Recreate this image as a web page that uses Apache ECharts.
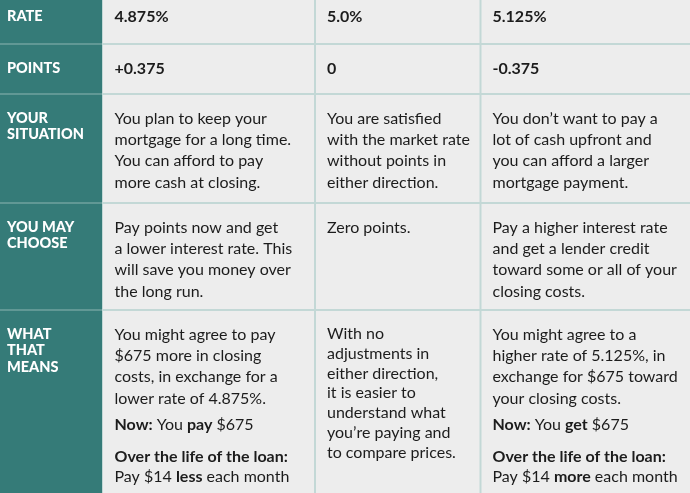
<!DOCTYPE html>
<html><head><meta charset="utf-8">
<script src="https://cdn.jsdelivr.net/npm/echarts@6/dist/echarts.min.js"></script>
<style>html,body{margin:0;padding:0;background:#ededed}#c{width:690px;height:493px}</style>
</head><body><div id="c"></div>
<script>
// ---- data ----
var rowLabels = ['RATE', 'POINTS', 'YOUR\nSITUATION', 'YOU MAY\nCHOOSE', 'WHAT\nTHAT\nMEANS'];
var rates = ['4.875%', '5.0%', '5.125%'];
var points = ['+0.375', '0', '-0.375'];
var situation = [
  'You plan to keep your\nmortgage for a long time.\nYou can afford to pay\nmore cash at closing.',
  'You are satisfied\nwith the market rate\nwithout points in\neither direction.',
  'You don\u2019t want to pay a\nlot of cash upfront and\nyou can afford a larger\nmortgage payment.'
];
var choose = [
  'Pay points now and get\na lower interest rate. This\nwill save you money over\nthe long run.',
  'Zero points.',
  'Pay a higher interest rate\nand get a lender credit\ntoward some or all of your\nclosing costs.'
];
var meansText = [
  'You might agree to pay\n$675 more in closing\ncosts, in exchange for a\nlower rate of 4.875%.',
  'With no\nadjustments in\neither direction,\nit is easier to\nunderstand what\nyou\u2019re paying and\nto compare prices.',
  'You might agree to a\nhigher rate of 5.125%, in\nexchange for $675 toward\nyour closing costs.'
];
var meansNow = ['{b|Now:} You {b|pay} $675', '', '{b|Now:} You {b|get} $675'];
var meansLife = ['{b|Over the life of the loan:}\nPay $14 {b|less} each month', '', '{b|Over the life of the loan:}\nPay $14 {b|more} each month'];

// ---- layout (not data) ----
var colEdges = [0, 102.5, 315, 480.5, 690];
var rowEdges = [-8, 44, 94, 203, 310, 493];
var TEAL = '#357b78', CELL = '#ededed', LINE = '#c3d8d6', INK = '#1c1c1c';
var FONT = 'Lato, "Open Sans", sans-serif';
var BODY_PX = 16;

var cells = [];
rowLabels.forEach(function (lab, r) { cells.push([0, r, lab, 'label']); });
[rates, points].forEach(function (arr, i) {
  arr.forEach(function (t, c) { cells.push([c + 1, i, t, 'value']); });
});
[situation, choose].forEach(function (arr, i) {
  arr.forEach(function (t, c) { cells.push([c + 1, i + 2, t, 'body']); });
});
meansText.forEach(function (t, c) {
  cells.push([c + 1, 4, t, 'body', meansNow[c], meansLife[c]]);
});

function richB(lh) {
  return { b: { fontWeight: 'bold', fontSize: BODY_PX, fontFamily: FONT, fill: INK, lineHeight: lh } };
}

function renderItem(params, api) {
  var c = api.value(0), r = api.value(1);
  var d = cells[params.dataIndex];
  var p0 = api.coord([colEdges[c], rowEdges[r]]);
  var p1 = api.coord([colEdges[c + 1], rowEdges[r + 1]]);
  var x0 = p0[0], y0 = p0[1], w = p1[0] - p0[0], h = p1[1] - p0[1];
  var children = [{
    type: 'rect', shape: { x: x0, y: y0, width: w, height: h },
    style: { fill: c === 0 ? TEAL : CELL }
  }];
  var kind = d[3];
  if (kind === 'label') {
    children.push({
      type: 'text', style: {
        x: x0 + 7, y: y0 + 16, text: d[2], fill: '#ffffff',
        font: '900 14.5px ' + FONT, lineHeight: 16.5, verticalAlign: 'top'
      }
    });
  } else if (kind === 'value') {
    children.push({
      type: 'text', style: {
        x: x0 + 12, y: y0 + 25, text: d[2], fill: INK,
        font: 'bold ' + BODY_PX + 'px ' + FONT, verticalAlign: 'middle'
      }
    });
  } else {
    var lh = (c === 2 && r === 4) ? 19.8 : 21.3;
    children.push({
      type: 'text', style: {
        x: x0 + 12, y: y0 + 14, text: d[2], fill: INK,
        font: BODY_PX + 'px ' + FONT, lineHeight: lh, verticalAlign: 'top'
      }
    });
    var nLines = d[2].split('\n').length;
    if (d[4]) {
      children.push({
        type: 'text', style: {
          x: x0 + 12, y: y0 + 14 + nLines * lh + 5, text: d[4], fill: INK,
          font: BODY_PX + 'px ' + FONT, lineHeight: lh, verticalAlign: 'top', rich: richB(lh)
        }
      });
    }
    if (d[5]) {
      children.push({
        type: 'text', style: {
          x: x0 + 12, y: y0 + 14 + (nLines + 1) * lh + 16, text: d[5], fill: INK,
          font: BODY_PX + 'px ' + FONT, lineHeight: 20.5, verticalAlign: 'top', rich: richB(20.5)
        }
      });
    }
  }
  // borders: top and left
  var lineCol = c === 0 ? 'rgba(255,255,255,0.22)' : LINE;
  if (r > 0) {
    children.push({ type: 'rect', shape: { x: x0, y: y0 - 1, width: w, height: 2 }, style: { fill: lineCol } });
  }
  if (c > 0) {
    children.push({ type: 'rect', shape: { x: x0 - (c === 1 ? 0.5 : 1), y: y0, width: c === 1 ? 1 : 2, height: h }, style: { fill: LINE } });
  }
  return { type: 'group', children: children };
}

var chart = echarts.init(document.getElementById('c'), null, { renderer: 'canvas' });
chart.setOption({
  animation: false,
  backgroundColor: CELL,
  grid: { left: 0, right: 0, top: 0, bottom: 0 },
  xAxis: { type: 'value', min: 0, max: 690, show: false },
  yAxis: { type: 'value', min: 0, max: 493, inverse: true, show: false },
  series: [{
    type: 'custom', renderItem: renderItem, clip: false,
    data: cells.map(function (d) { return [d[0], d[1]]; })
  }]
});
</script></body></html>
